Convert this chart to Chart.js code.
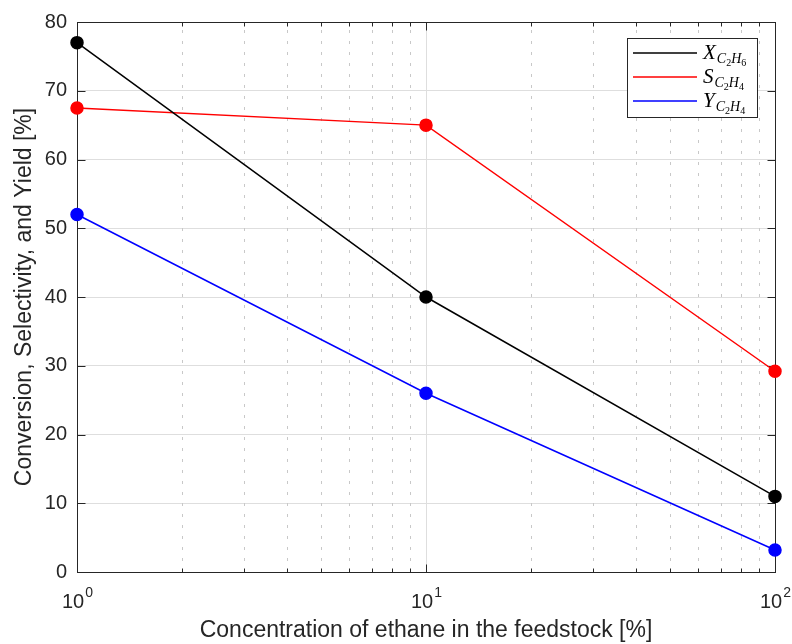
<!DOCTYPE html>
<html>
<head>
<meta charset="utf-8">
<script src="https://cdn.jsdelivr.net/npm/chart.js@4/dist/chart.umd.min.js"></script>
<style>
  html, body { margin: 0; padding: 0; background: #fff; }
  #wrap { width: 792px; height: 644px; }
</style>
</head>
<body>
<div id="wrap"><canvas id="chart"></canvas></div>
<script>
// values
const concentration = [1, 10, 100];          // ethane in feedstock [%]
const conversionX = [77, 40, 11];
const selectivityS = [67.5, 65, 29.2];
const yieldY = [52, 26, 3.2];

const seriesSymbols = ['X', 'S', 'Y'];
const seriesSubs = ['C2H6', 'C2H4', 'C2H4'];
const seriesColors = ['#000000', '#ff0000', '#0000ff'];

const xMajor = [1, 10, 100];
const xMinor = [2, 3, 4, 5, 6, 7, 8, 9, 20, 30, 40, 50, 60, 70, 80, 90];
const yTickValues = [0, 10, 20, 30, 40, 50, 60, 70, 80];

const axisColor = '#262626';

function pts(ys) {
    return concentration.map((c, i) => ({ x: c, y: ys[i] }));
}

const allSeries = [conversionX, selectivityS, yieldY];
const datasets = allSeries.map((ys, i) => ({
    label: seriesSymbols[i] + '_' + seriesSubs[i],
    data: pts(ys),
    borderColor: seriesColors[i],
    backgroundColor: seriesColors[i],
    pointBackgroundColor: seriesColors[i],
    pointBorderColor: seriesColors[i],
    borderWidth: 1.5,
    pointRadius: 6,
    pointHoverRadius: 6,
    tension: 0,
    clip: false
}));

// dotted minor grid, box and inward ticks (MATLAB look)
const matlabAxes = {
    id: 'matlabAxes',
    beforeDatasetsDraw(chart) {
        const ctx = chart.ctx;
        const a = chart.chartArea;
        const xs = chart.scales.x, ys = chart.scales.y;
        ctx.save();
        // minor grid
        ctx.strokeStyle = '#c8c8c8';
        ctx.lineWidth = 1;
        ctx.setLineDash([3, 8]);
        xMinor.forEach(v => {
            const px = Math.round(xs.getPixelForValue(v)) + 0.5;
            ctx.beginPath();
            ctx.moveTo(px, a.bottom);
            ctx.lineTo(px, a.top);
            ctx.stroke();
        });
        ctx.setLineDash([]);
        // box
        ctx.strokeStyle = axisColor;
        ctx.lineWidth = 1;
        const L = Math.round(a.left) + 0.5, R = Math.round(a.right) + 0.5;
        const T = Math.round(a.top) + 0.5, B = Math.round(a.bottom) + 0.5;
        ctx.strokeRect(L, T, R - L, B - T);
        // ticks
        ctx.beginPath();
        yTickValues.forEach(v => {
            const py = Math.round(ys.getPixelForValue(v)) + 0.5;
            ctx.moveTo(L, py); ctx.lineTo(L + 8, py);
            ctx.moveTo(R, py); ctx.lineTo(R - 8, py);
        });
        xMajor.forEach(v => {
            const px = Math.round(xs.getPixelForValue(v)) + 0.5;
            ctx.moveTo(px, B); ctx.lineTo(px, B - 8);
            ctx.moveTo(px, T); ctx.lineTo(px, T + 8);
        });
        xMinor.forEach(v => {
            const px = Math.round(xs.getPixelForValue(v)) + 0.5;
            ctx.moveTo(px, B); ctx.lineTo(px, B - 4);
            ctx.moveTo(px, T); ctx.lineTo(px, T + 4);
        });
        ctx.stroke();
        ctx.restore();
    },
    afterDraw(chart) {
        const ctx = chart.ctx;
        const a = chart.chartArea;
        const xs = chart.scales.x;
        ctx.save();
        ctx.fillStyle = axisColor;
        ctx.textBaseline = 'alphabetic';
        ctx.textAlign = 'left';
        // x tick labels 10^n
        xMajor.forEach(v => {
            const base = '10', exp = String(Math.round(Math.log10(v)));
            ctx.font = '20px "Liberation Sans", Arial, sans-serif';
            const wb = ctx.measureText(base).width;
            ctx.font = '14px "Liberation Sans", Arial, sans-serif';
            const we = ctx.measureText(exp).width;
            const px = xs.getPixelForValue(v);
            const x0 = px - (wb + we) / 2;
            ctx.font = '20px "Liberation Sans", Arial, sans-serif';
            ctx.fillText(base, x0, a.bottom + 36);
            ctx.font = '14px "Liberation Sans", Arial, sans-serif';
            ctx.fillText(exp, x0 + wb + 1, a.bottom + 25);
        });
        // legend
        const bx = 627.5, by = 38.5, bw = 130, bh = 79;
        ctx.fillStyle = '#ffffff';
        ctx.fillRect(bx, by, bw, bh);
        ctx.strokeStyle = axisColor;
        ctx.lineWidth = 1;
        ctx.strokeRect(bx, by, bw, bh);
        chart.data.datasets.forEach((ds, i) => {
            const ly = 53 + i * 24;
            ctx.strokeStyle = ds.borderColor;
            ctx.lineWidth = 1.5;
            ctx.beginPath();
            ctx.moveTo(633, ly);
            ctx.lineTo(697, ly);
            ctx.stroke();
            const parts = ds.label.split('_');
            let tx = 703;
            const base = ly + 6;
            ctx.fillStyle = '#000';
            ctx.font = 'italic 21px "Liberation Serif", "Times New Roman", serif';
            ctx.fillText(parts[0], tx, base);
            tx += ctx.measureText(parts[0]).width + 1;
            for (const ch of parts[1]) {
                if (/[0-9]/.test(ch)) {
                    ctx.font = '10px "Liberation Serif", "Times New Roman", serif';
                    ctx.fillText(ch, tx, base + 7);
                } else {
                    ctx.font = 'italic 14px "Liberation Serif", "Times New Roman", serif';
                    ctx.fillText(ch, tx, base + 4);
                }
                tx += ctx.measureText(ch).width;
            }
        });
        ctx.restore();
    }
};

new Chart(document.getElementById('chart'), {
    type: 'line',
    data: { datasets: datasets },
    options: {
        responsive: true,
        maintainAspectRatio: false,
        animation: false,
        events: [],
        layout: { padding: { top: 21, right: 17, left: 0, bottom: 0 } },
        plugins: {
            legend: { display: false },
            tooltip: { enabled: false }
        },
        scales: {
            x: {
                type: 'logarithmic',
                min: 1,
                max: 100,
                afterFit(scale) { scale.height = 72; },
                ticks: { display: false },
                grid: {
                    drawTicks: false,
                    lineWidth: 1,
                    color: ctx => (ctx.tick && xMajor.includes(ctx.tick.value)) ? '#dedede' : 'rgba(0,0,0,0)'
                },
                border: { display: false },
                title: {
                    display: true,
                    text: 'Concentration of ethane in the feedstock [%]',
                    color: axisColor,
                    font: { family: '"Liberation Sans", Arial, sans-serif', size: 23 },
                    padding: { top: 0, bottom: 0 }
                }
            },
            y: {
                type: 'linear',
                min: 0,
                max: 80,
                afterFit(scale) { scale.width = 77; },
                afterBuildTicks(scale) { scale.ticks = yTickValues.map(v => ({ value: v })); },
                ticks: {
                    padding: 10,
                    color: axisColor,
                    font: { family: '"Liberation Sans", Arial, sans-serif', size: 20 }
                },
                grid: { drawTicks: false, color: '#dedede', lineWidth: 1 },
                border: { display: false },
                title: {
                    display: true,
                    text: 'Conversion, Selectivity, and Yield [%]',
                    color: axisColor,
                    font: { family: '"Liberation Sans", Arial, sans-serif', size: 23 },
                    padding: { top: 11, bottom: 0 }
                }
            }
        }
    },
    plugins: [matlabAxes]
});
</script>
</body>
</html>
